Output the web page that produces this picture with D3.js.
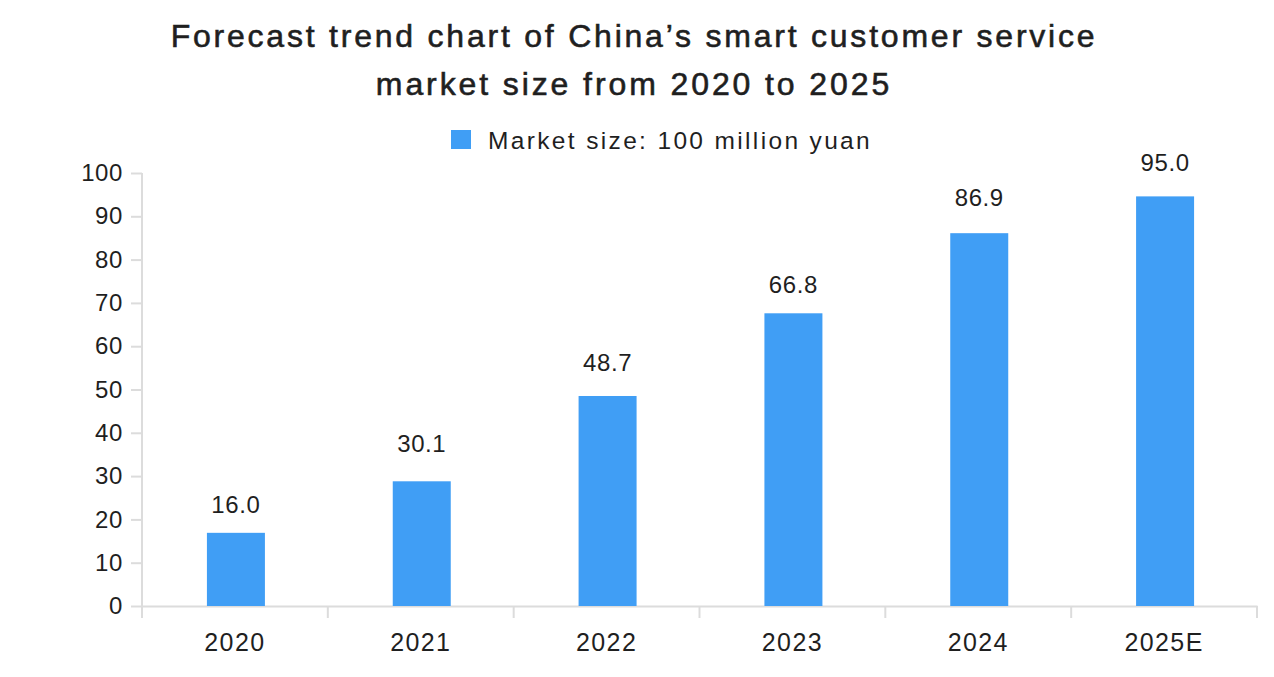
<!DOCTYPE html>
<html><head><meta charset="utf-8">
<script src="https://cdn.jsdelivr.net/npm/d3@7"></script>
<style>body{margin:0;background:#fff}svg{display:block}</style>
</head><body>
<svg id="c" width="1274" height="677"></svg>
<script>
const categories = ["2020","2021","2022","2023","2024","2025E"];
const barValues = [16.9, 28.8, 48.5, 67.6, 86.1, 94.6];
const labelValues = [16.0, 30.1, 48.7, 66.8, 86.9, 95.0];
const yTicks = [0,10,20,30,40,50,60,70,80,90,100];
const titleLines = ["Forecast trend chart of China\u2019s smart customer service","market size from 2020 to 2025"];
const legendLabel = "Market size: 100 million yuan";

const font = "'Liberation Sans', Arial, sans-serif";
const svg = d3.select("#c");
const x = d3.scaleBand().domain(categories).range([142, 1257]).padding(0);
const y = d3.scaleLinear().domain([0,100]).range([606, 173]);
const axisColor = "#dcdcdc";
const textColor = "#1f1f1f";
const barColor = "#409ef5";

// title
svg.append("g").selectAll("text").data(titleLines).join("text")
  .attr("x", 634).attr("y", (d,i)=>47 + i*48)
  .attr("text-anchor","middle").attr("font-family",font).attr("font-size",32)
  .attr("letter-spacing", (d,i)=> i===0 ? 2.78 : 2.9)
  .attr("fill",textColor).attr("stroke",textColor).attr("stroke-width",0.6).text(d=>d);

// legend
svg.append("rect").attr("x",451).attr("y",130).attr("width",20).attr("height",19).attr("fill",barColor);
svg.append("text").attr("x",488).attr("y",149).attr("font-family",font).attr("font-size",24.5)
  .attr("letter-spacing",2.35).attr("fill",textColor).text(legendLabel);

// y axis
const yAxis = svg.append("g").attr("transform","translate(142,0)")
  .call(d3.axisLeft(y).tickValues(yTicks).tickSize(11).tickPadding(8));
yAxis.select(".domain").attr("stroke",axisColor).attr("stroke-width",2).attr("d","M0,173V606");
yAxis.selectAll(".tick line").attr("stroke",axisColor).attr("stroke-width",2);
yAxis.selectAll(".tick text").attr("font-family",font).attr("font-size",24).attr("fill",textColor)
  .attr("letter-spacing",0.6);

// x axis
const xAxis = svg.append("g").attr("transform","translate(0,606)")
  .call(d3.axisBottom(x).tickSize(0).tickPadding(27));
xAxis.select(".domain").attr("stroke",axisColor).attr("stroke-width",2);
xAxis.selectAll(".tick text").attr("font-family",font).attr("font-size",25).attr("fill",textColor)
  .attr("letter-spacing",1.4);
// category boundary ticks
const bounds = categories.map(c=>x(c)).concat([x(categories[categories.length-1])+x.bandwidth()]);
svg.append("g").selectAll("line").data(bounds).join("line")
  .attr("x1",d=>d).attr("x2",d=>d).attr("y1",606).attr("y2",618)
  .attr("stroke",axisColor).attr("stroke-width",2);

// bars
const bw = 58;
svg.append("g").selectAll("rect").data(categories).join("rect")
  .attr("x",(d)=>x(d)+x.bandwidth()/2 - bw/2 + 1)
  .attr("y",(d,i)=>y(barValues[i]))
  .attr("width",bw)
  .attr("height",(d,i)=>y(0)-y(barValues[i]))
  .attr("fill",barColor);

// value labels
svg.append("g").selectAll("text").data(categories).join("text")
  .attr("x",(d)=>x(d)+x.bandwidth()/2 + 1)
  .attr("y",(d,i)=>y(labelValues[i]) - 24)
  .attr("text-anchor","middle").attr("font-family",font).attr("font-size",24)
  .attr("letter-spacing",0.6)
  .attr("fill",textColor).text((d,i)=>labelValues[i].toFixed(1));
</script>
</body></html>
